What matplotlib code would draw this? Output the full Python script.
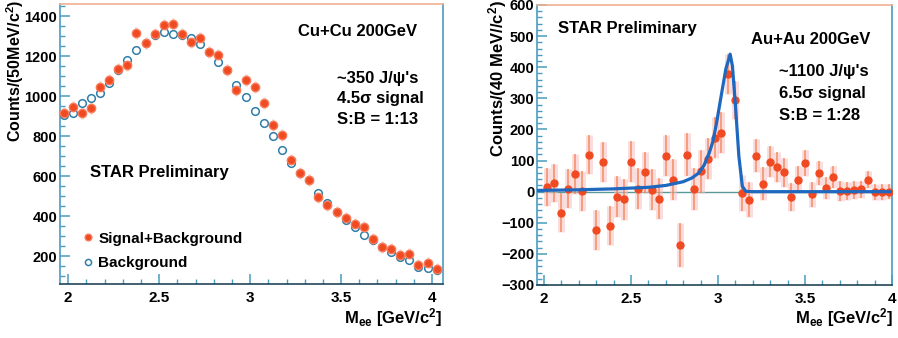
import matplotlib
matplotlib.use("Agg")
import matplotlib.pyplot as plt
from matplotlib.ticker import MultipleLocator

plt.rcParams["font.family"] = ["Liberation Sans", "DejaVu Sans"]
plt.rcParams["font.weight"] = "bold"
plt.rcParams["mathtext.fontset"] = "custom"
plt.rcParams["mathtext.rm"] = "Liberation Sans:bold"
plt.rcParams["mathtext.it"] = "Liberation Sans:bold"
plt.rcParams["mathtext.bf"] = "Liberation Sans:bold"

# Cu+Cu 200 GeV, 50 MeV bins
cu_mass = [1.975, 2.025, 2.075, 2.125, 2.175, 2.225, 2.275, 2.325, 2.375, 2.425,
           2.475, 2.525, 2.575, 2.625, 2.675, 2.725, 2.775, 2.825, 2.875, 2.925,
           2.975, 3.025, 3.075, 3.125, 3.175, 3.225, 3.275, 3.325, 3.375, 3.425,
           3.475, 3.525, 3.575, 3.625, 3.675, 3.725, 3.775, 3.825, 3.875, 3.925,
           3.975, 4.025]
cu_signal_bg = [913, 947, 913, 938, 1043, 1080, 1133, 1155, 1317, 1267,
                1308, 1355, 1360, 1308, 1272, 1288, 1222, 1205, 1130, 1030,
                1080, 1047, 963, 855, 805, 680, 613, 580, 497, 455,
                422, 388, 360, 347, 283, 247, 233, 205, 208, 155,
                163, 133]
cu_background = [905, 917, 963, 992, 1017, 1067, 1130, 1180, 1230, 1267,
                 1305, 1322, 1308, 1305, 1288, 1258, 1222, 1172, 1130, 1055,
                 997, 925, 863, 800, 730, 663, 613, 580, 517, 463,
                 422, 380, 343, 305, 280, 247, 222, 197, 180, 147,
                 138, 130]
cu_err = 30

# Au+Au 200 GeV, background subtracted, 40 MeV bins
au_mass = [2.02, 2.06, 2.10, 2.14, 2.18, 2.22, 2.26, 2.30, 2.34, 2.38,
           2.42, 2.46, 2.50, 2.54, 2.58, 2.62, 2.66, 2.70, 2.74, 2.78,
           2.82, 2.86, 2.90, 2.94, 2.98, 3.02, 3.06, 3.10, 3.14, 3.18,
           3.22, 3.26, 3.30, 3.34, 3.38, 3.42, 3.46, 3.50, 3.54, 3.58,
           3.62, 3.66, 3.70, 3.74, 3.78, 3.82, 3.86, 3.90, 3.94, 3.98]
au_counts = [15, 28, -67, 10, 57, 3, 119, -123, 96, -109,
             -17, -24, 96, 10, 62, 6, -23, 116, 39, -171,
             119, 9, 65, 106, 173, 190, 377, 294, -4, -26,
             116, 26, 96, 78, 62, -17, 39, 92, -8, 60,
             12, 47, 1, 2, 5, 7, 39, 0, 0, 0]
au_err = [60, 62, 62, 64, 64, 65, 62, 65, 64, 64,
          66, 66, 66, 66, 66, 66, 66, 66, 66, 70,
          70, 68, 68, 66, 66, 66, 64, 62, 58, 56,
          54, 52, 50, 48, 46, 44, 42, 42, 40, 38,
          36, 34, 32, 30, 30, 28, 28, 26, 26, 24]

# fitted signal shape
fit_mass = [1.96, 2.2, 2.4, 2.6, 2.7, 2.8, 2.85, 2.89, 2.92, 2.95, 2.97, 2.99,
            3.015, 3.045, 3.07, 3.083, 3.10, 3.12, 3.14, 3.16, 3.2, 4.0]
fit_counts = [4, 6, 9, 14, 20, 32, 44, 60, 85, 125, 160, 215,
              297, 394, 442, 404, 280, 114, 17, 1, 0, 0]

axis_col = "#4a9cc0"
red = "#f04a22"

fig = plt.figure(figsize=(8.98, 3.38), dpi=100)
ax1 = fig.add_axes([60 / 898, 1 - 284 / 338, 383 / 898, 280 / 338])
ax2 = fig.add_axes([537 / 898, 1 - 285 / 338, 355 / 898, 280 / 338])

for ax in (ax1, ax2):
    for s in ax.spines.values():
        s.set_color(axis_col)
        s.set_linewidth(1.2)
    ax.spines["top"].set_color("#f0b090")
    ax.spines["bottom"].set_color("#23465a")
    ax.tick_params(which="both", direction="in", colors=axis_col, labelcolor="black",
                   labelsize=10.5, top=False, right=False)
    ax.tick_params(which="major", length=7, width=1.1)
    ax.tick_params(which="minor", length=3.5, width=1)
    ax.tick_params(axis="y", pad=2)
    ax.tick_params(axis="x", pad=5, labelsize=11)
    ax.xaxis.set_major_locator(MultipleLocator(0.5))
    ax.xaxis.set_minor_locator(MultipleLocator(0.1))
    ax.set_xticks([2, 2.5, 3, 3.5, 4], ["2", "2.5", "3", "3.5", "4"])

# left: Cu+Cu
ax1.errorbar(cu_mass, cu_signal_bg, yerr=cu_err, fmt="none", ecolor="#f8b0a0",
             elinewidth=2, alpha=0.5, zorder=2)
ax1.plot(cu_mass, cu_background, "o", ms=5.5, mfc="white", mec="#2f7fa8", mew=1.1,
         zorder=3, label="Background")
ax1.plot(cu_mass, cu_signal_bg, "o", ms=6, color=red, mec="#f87a58", zorder=4,
         label="Signal+Background")
ax1.set_xlim(1.955, 4.06)
ax1.set_ylim(60, 1460)
ax1.yaxis.set_major_locator(MultipleLocator(200))
ax1.yaxis.set_minor_locator(MultipleLocator(50))

h, l = ax1.get_legend_handles_labels()
ax1.legend(h[::-1], l[::-1], loc="lower left", bbox_to_anchor=(0.02, 0.0),
           frameon=False, fontsize=11, handlelength=0.8, handletextpad=0.3,
           labelspacing=0.7, markerscale=0.8)

ax1.text(3.59, 1320, "Cu+Cu 200GeV", ha="center", va="center", fontsize=12)
ax1.text(3.48, 1090, "~350 J/ψ's", ha="left", va="center", fontsize=12)
ax1.text(3.48, 985, "4.5σ signal", ha="left", va="center", fontsize=12)
ax1.text(3.48, 880, "S:B = 1:13", ha="left", va="center", fontsize=12)
ax1.text(2.12, 615, "STAR Preliminary", ha="left", va="center", fontsize=12)

fig.text(15 / 898, 1.0, "Counts/(50MeV/c$^{\\mathrm{2}}$)", rotation=90,
         ha="center", va="top", fontsize=11.5)
fig.text(442 / 898, 1 - 318 / 338, "M$_{\\mathrm{ee}}$ [GeV/c$^{\\mathrm{2}}$]",
         ha="right", va="center", fontsize=12)

# right: Au+Au
ax2.axhline(0, color="#5a9a98", lw=1, zorder=1)
ax2.errorbar(au_mass, au_counts, yerr=au_err, fmt="none", ecolor="#f8c0c0",
             elinewidth=5, alpha=0.55, zorder=2)
ax2.errorbar(au_mass, au_counts, yerr=au_err, fmt="none", ecolor="#f27a4a",
             elinewidth=1.2, alpha=0.75, zorder=3)
ax2.plot(au_mass, au_counts, "o", ms=5, color=red, zorder=3)
ax2.plot(fit_mass, fit_counts, color="#1f68c0", lw=2.3, zorder=4)
ax2.set_xlim(1.96, 4.0)
ax2.set_ylim(-300, 600)
ax2.yaxis.set_major_locator(MultipleLocator(100))
ax2.yaxis.set_minor_locator(MultipleLocator(20))

ax2.text(2.08, 525, "STAR Preliminary", ha="left", va="center", fontsize=12)
ax2.text(3.53, 490, "Au+Au 200GeV", ha="center", va="center", fontsize=12)
ax2.text(3.35, 385, "~1100 J/ψ's", ha="left", va="center", fontsize=12)
ax2.text(3.35, 315, "6.5σ signal", ha="left", va="center", fontsize=12)
ax2.text(3.35, 245, "S:B = 1:28", ha="left", va="center", fontsize=12)

fig.text(498 / 898, 1.0, "Counts/(40 MeV//c$^{\\mathrm{2}}$)", rotation=90,
         ha="center", va="top", fontsize=12)
fig.text(893 / 898, 1 - 318 / 338, "M$_{\\mathrm{ee}}$ [GeV/c$^{\\mathrm{2}}$]",
         ha="right", va="center", fontsize=12)

fig.savefig("out.png", dpi=100)
